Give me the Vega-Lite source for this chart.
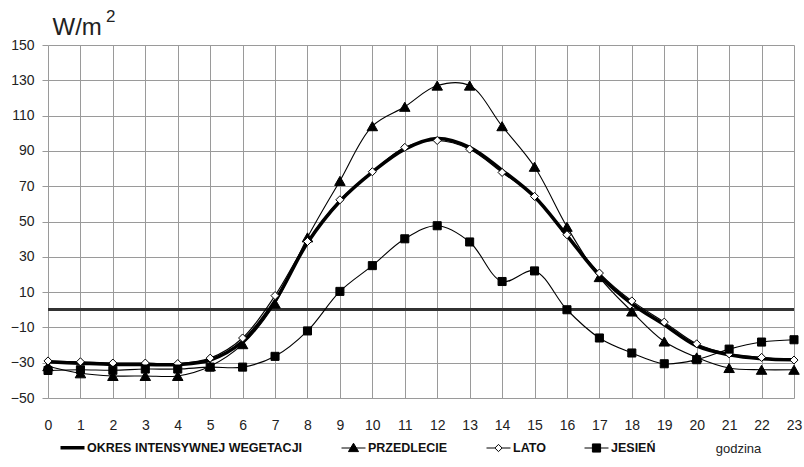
{
  "$schema": "https://vega.github.io/schema/vega-lite/v6.json",
  "width": 746,
  "height": 353,
  "autosize": {"type": "none"},
  "padding": {"left": 48, "top": 45, "right": 10, "bottom": 69},
  "background": "white",
  "title": {"text": "2", "fontSize": 17, "fontWeight": "normal", "font": "Liberation Sans", "color": "#222", "anchor": "start", "frame": "group", "dx": 58, "dy": 15, "offset": -8.5, "baseline": "alphabetic"},
  "data": {"values": [
    {"hour": 0, "series": "OKRES INTENSYWNEJ WEGETACJI", "value": -29.5},
    {"hour": 1, "series": "OKRES INTENSYWNEJ WEGETACJI", "value": -30.3},
    {"hour": 2, "series": "OKRES INTENSYWNEJ WEGETACJI", "value": -31},
    {"hour": 3, "series": "OKRES INTENSYWNEJ WEGETACJI", "value": -31},
    {"hour": 4, "series": "OKRES INTENSYWNEJ WEGETACJI", "value": -31},
    {"hour": 5, "series": "OKRES INTENSYWNEJ WEGETACJI", "value": -28.5},
    {"hour": 6, "series": "OKRES INTENSYWNEJ WEGETACJI", "value": -18},
    {"hour": 7, "series": "OKRES INTENSYWNEJ WEGETACJI", "value": 5},
    {"hour": 8, "series": "OKRES INTENSYWNEJ WEGETACJI", "value": 38},
    {"hour": 9, "series": "OKRES INTENSYWNEJ WEGETACJI", "value": 61.5},
    {"hour": 10, "series": "OKRES INTENSYWNEJ WEGETACJI", "value": 78},
    {"hour": 11, "series": "OKRES INTENSYWNEJ WEGETACJI", "value": 91},
    {"hour": 12, "series": "OKRES INTENSYWNEJ WEGETACJI", "value": 97},
    {"hour": 13, "series": "OKRES INTENSYWNEJ WEGETACJI", "value": 92},
    {"hour": 14, "series": "OKRES INTENSYWNEJ WEGETACJI", "value": 79},
    {"hour": 15, "series": "OKRES INTENSYWNEJ WEGETACJI", "value": 64},
    {"hour": 16, "series": "OKRES INTENSYWNEJ WEGETACJI", "value": 42},
    {"hour": 17, "series": "OKRES INTENSYWNEJ WEGETACJI", "value": 19.5},
    {"hour": 18, "series": "OKRES INTENSYWNEJ WEGETACJI", "value": 3.4},
    {"hour": 19, "series": "OKRES INTENSYWNEJ WEGETACJI", "value": -8.5},
    {"hour": 20, "series": "OKRES INTENSYWNEJ WEGETACJI", "value": -20.5},
    {"hour": 21, "series": "OKRES INTENSYWNEJ WEGETACJI", "value": -25.5},
    {"hour": 22, "series": "OKRES INTENSYWNEJ WEGETACJI", "value": -27.7},
    {"hour": 23, "series": "OKRES INTENSYWNEJ WEGETACJI", "value": -28.3},
    {"hour": 0, "series": "PRZEDLECIE", "value": -32},
    {"hour": 1, "series": "PRZEDLECIE", "value": -36},
    {"hour": 2, "series": "PRZEDLECIE", "value": -37.5},
    {"hour": 3, "series": "PRZEDLECIE", "value": -37.5},
    {"hour": 4, "series": "PRZEDLECIE", "value": -37.5},
    {"hour": 5, "series": "PRZEDLECIE", "value": -32},
    {"hour": 6, "series": "PRZEDLECIE", "value": -19.5},
    {"hour": 7, "series": "PRZEDLECIE", "value": 3.5},
    {"hour": 8, "series": "PRZEDLECIE", "value": 41},
    {"hour": 9, "series": "PRZEDLECIE", "value": 73},
    {"hour": 10, "series": "PRZEDLECIE", "value": 104},
    {"hour": 11, "series": "PRZEDLECIE", "value": 115},
    {"hour": 12, "series": "PRZEDLECIE", "value": 127},
    {"hour": 13, "series": "PRZEDLECIE", "value": 127},
    {"hour": 14, "series": "PRZEDLECIE", "value": 104},
    {"hour": 15, "series": "PRZEDLECIE", "value": 81},
    {"hour": 16, "series": "PRZEDLECIE", "value": 47},
    {"hour": 17, "series": "PRZEDLECIE", "value": 18.5},
    {"hour": 18, "series": "PRZEDLECIE", "value": -1},
    {"hour": 19, "series": "PRZEDLECIE", "value": -18},
    {"hour": 20, "series": "PRZEDLECIE", "value": -27},
    {"hour": 21, "series": "PRZEDLECIE", "value": -33},
    {"hour": 22, "series": "PRZEDLECIE", "value": -34},
    {"hour": 23, "series": "PRZEDLECIE", "value": -34},
    {"hour": 0, "series": "LATO", "value": -29},
    {"hour": 1, "series": "LATO", "value": -29.5},
    {"hour": 2, "series": "LATO", "value": -30.2},
    {"hour": 3, "series": "LATO", "value": -30.2},
    {"hour": 4, "series": "LATO", "value": -30.5},
    {"hour": 5, "series": "LATO", "value": -27.4},
    {"hour": 6, "series": "LATO", "value": -16},
    {"hour": 7, "series": "LATO", "value": 8},
    {"hour": 8, "series": "LATO", "value": 38.7},
    {"hour": 9, "series": "LATO", "value": 62.3},
    {"hour": 10, "series": "LATO", "value": 78.2},
    {"hour": 11, "series": "LATO", "value": 92},
    {"hour": 12, "series": "LATO", "value": 95.9},
    {"hour": 13, "series": "LATO", "value": 91},
    {"hour": 14, "series": "LATO", "value": 77.8},
    {"hour": 15, "series": "LATO", "value": 64.2},
    {"hour": 16, "series": "LATO", "value": 42.5},
    {"hour": 17, "series": "LATO", "value": 20.8},
    {"hour": 18, "series": "LATO", "value": 5},
    {"hour": 19, "series": "LATO", "value": -7},
    {"hour": 20, "series": "LATO", "value": -19.3},
    {"hour": 21, "series": "LATO", "value": -25},
    {"hour": 22, "series": "LATO", "value": -27},
    {"hour": 23, "series": "LATO", "value": -28.5},
    {"hour": 0, "series": "JESIEŃ", "value": -34.4},
    {"hour": 1, "series": "JESIEŃ", "value": -34},
    {"hour": 2, "series": "JESIEŃ", "value": -34.3},
    {"hour": 3, "series": "JESIEŃ", "value": -33.6},
    {"hour": 4, "series": "JESIEŃ", "value": -33.6},
    {"hour": 5, "series": "JESIEŃ", "value": -32.5},
    {"hour": 6, "series": "JESIEŃ", "value": -32.5},
    {"hour": 7, "series": "JESIEŃ", "value": -26.4},
    {"hour": 8, "series": "JESIEŃ", "value": -12},
    {"hour": 9, "series": "JESIEŃ", "value": 10.4},
    {"hour": 10, "series": "JESIEŃ", "value": 25},
    {"hour": 11, "series": "JESIEŃ", "value": 40.2},
    {"hour": 12, "series": "JESIEŃ", "value": 47.6},
    {"hour": 13, "series": "JESIEŃ", "value": 38.4},
    {"hour": 14, "series": "JESIEŃ", "value": 16},
    {"hour": 15, "series": "JESIEŃ", "value": 22},
    {"hour": 16, "series": "JESIEŃ", "value": 0},
    {"hour": 17, "series": "JESIEŃ", "value": -16},
    {"hour": 18, "series": "JESIEŃ", "value": -24.5},
    {"hour": 19, "series": "JESIEŃ", "value": -30.6},
    {"hour": 20, "series": "JESIEŃ", "value": -28.3},
    {"hour": 21, "series": "JESIEŃ", "value": -22.3},
    {"hour": 22, "series": "JESIEŃ", "value": -18.3},
    {"hour": 23, "series": "JESIEŃ", "value": -17}
  ]},
  "encoding": {
    "x": {"field": "hour", "type": "quantitative", "scale": {"domain": [0, 23], "nice": false, "zero": false},
      "axis": {"values": [0,1,2,3,4,5,6,7,8,9,10,11,12,13,14,15,16,17,18,19,20,21,22,23], "format": "d", "ticks": false, "tickSize": 0, "labelPadding": 20, "labelFontSize": 14, "labelFlush": false,
        "title": "godzina", "titleFontSize": 13, "titleFontWeight": "normal", "titleX": 690, "titleY": 54, "titleAlign": "center", "titleBaseline": "alphabetic"}},
    "y": {"field": "value", "type": "quantitative", "scale": {"domain": [-50, 150], "nice": false, "zero": false},
      "axis": {"values": [-50,-30,-10,10,30,50,70,90,110,130,150], "tickSize": 6, "tickColor": "#999", "labelPadding": 8, "labelFontSize": 14,
        "title": "W/m", "titleAngle": 0, "titleFontSize": 24, "titleFontWeight": "normal", "titleAlign": "left", "titleBaseline": "alphabetic", "titleX": 4, "titleY": -11}}
  },
  "layer": [
    {
      "mark": {"type": "rule", "color": "#333", "strokeWidth": 2},
      "encoding": {"y": {"datum": 0}, "x": {"datum": 0}, "x2": {"datum": 23}}
    },
    {
      "mark": {"type": "line", "interpolate": "catmull-rom"},
      "encoding": {
        "color": {"field": "series", "type": "nominal",
          "scale": {"domain": ["OKRES INTENSYWNEJ WEGETACJI", "PRZEDLECIE", "LATO", "JESIEŃ"], "range": ["black", "black", "black", "black"]},
          "legend": {"title": null, "orient": "none", "direction": "horizontal", "legendX": 12, "legendY": 390, "padding": 0,
            "symbolSize": 576, "labelOffset": 2, "columnPadding": 36, "labelFontSize": 12.5, "labelFontWeight": "bold", "labelFont": "Liberation Sans", "labelColor": "#111", "labelLimit": 400,
            "encode": {"symbols": {"update": {
              "shape": {"signal": "(datum.value === 'PRZEDLECIE' ? 'M-1,0H1M0,-0.4L0.42,0.3L-0.42,0.3Z' : datum.value === 'LATO' ? 'M-1,0H-0.3M0.3,0H1M0,-0.3L0.3,0L0,0.3L-0.3,0Z' : datum.value === 'JESIEŃ' ? 'M-1,0H1M-0.34,-0.34H0.34V0.34H-0.34Z' : 'M-1,0H1')"},
              "fill": {"signal": "(datum.value === 'LATO' ? 'white' : datum.value === 'OKRES INTENSYWNEJ WEGETACJI' ? 'transparent' : 'black')"},
              "stroke": {"value": "black"},
              "strokeWidth": {"signal": "(datum.value === 'OKRES INTENSYWNEJ WEGETACJI' ? 3.5 : 1)"},
              "opacity": {"value": 1}
            }}}
          }},
        "strokeWidth": {"condition": {"test": "datum.series === 'OKRES INTENSYWNEJ WEGETACJI'", "value": 3.5}, "value": 1.1}
      }
    },
    {
      "transform": [{"filter": "datum.series !== 'OKRES INTENSYWNEJ WEGETACJI'"}],
      "mark": {"type": "point", "stroke": "black", "strokeWidth": 1, "opacity": 1},
      "encoding": {
        "shape": {"field": "series", "type": "nominal", "scale": {"domain": ["PRZEDLECIE", "LATO", "JESIEŃ"], "range": ["triangle-up", "diamond", "square"]}, "legend": null},
        "fill": {"field": "series", "type": "nominal", "scale": {"domain": ["PRZEDLECIE", "LATO", "JESIEŃ"], "range": ["black", "white", "black"]}, "legend": null},
        "size": {"condition": {"test": "datum.series === 'PRZEDLECIE'", "value": 110}, "value": 65}
      }
    }
  ],
  "config": {
    "view": {"stroke": null},
    "font": "Liberation Sans",
    "axis": {"domain": false, "grid": true, "gridColor": "#9a9a9a", "gridWidth": 1, "labelFont": "Liberation Sans", "labelColor": "#222", "titleFont": "Liberation Sans", "titleColor": "#222"}
  }
}
